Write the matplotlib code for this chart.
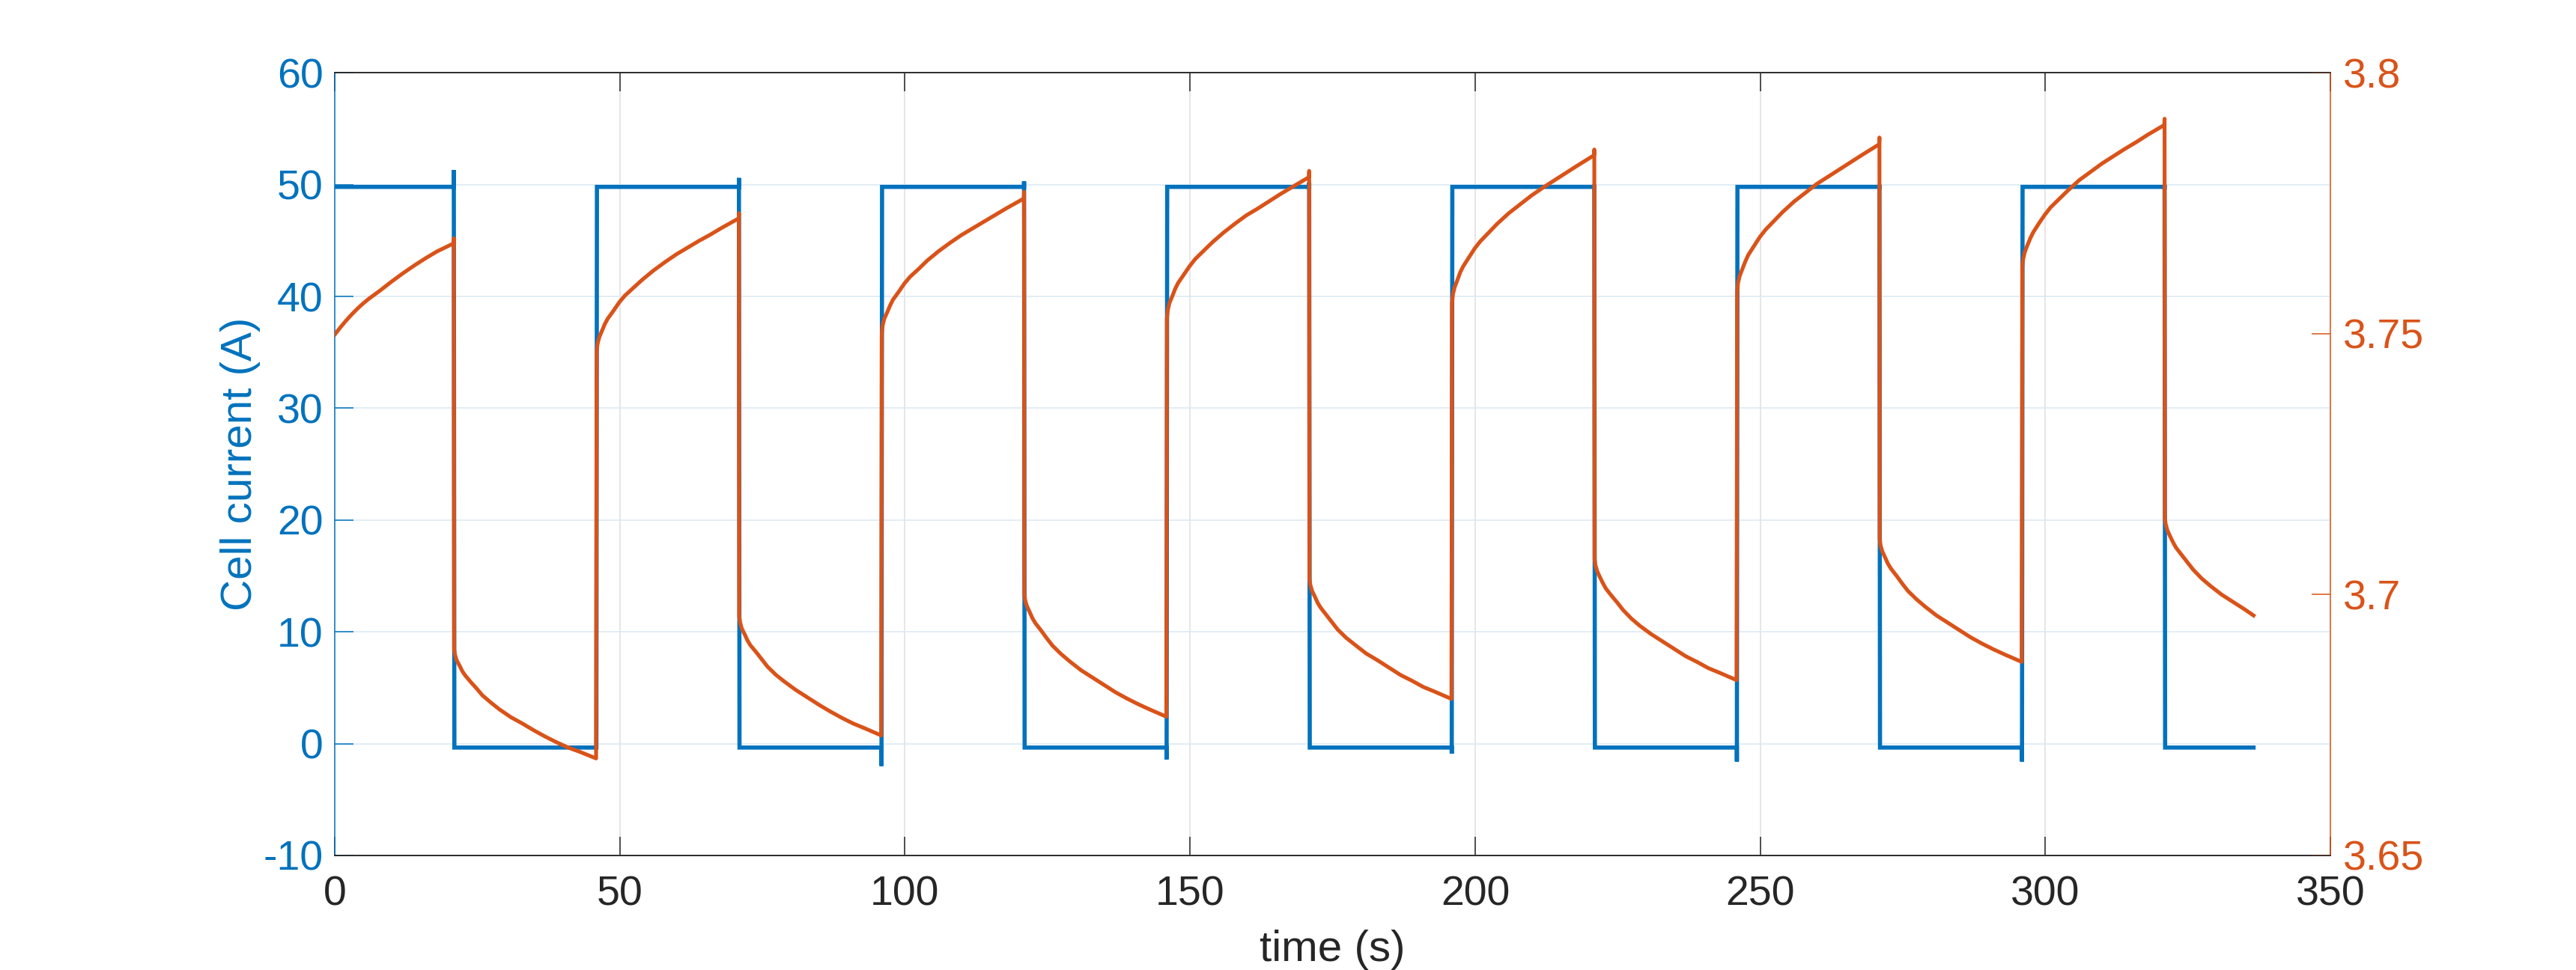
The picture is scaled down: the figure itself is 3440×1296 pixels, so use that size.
import matplotlib.pyplot as plt
import numpy as np

plt.rcParams['font.family'] = ['Liberation Sans', 'DejaVu Sans']
plt.rcParams['axes.unicode_minus'] = False

# switching times of the pulse test (s)
t_off = [20.9, 70.9, 120.9, 170.9, 220.9, 270.9, 320.9]   # current goes to zero
t_on = [45.9, 95.9, 145.9, 195.9, 245.9, 295.9]           # current back to 50 A
t_end = 336.5

# current levels (A)
i_high = 49.8
i_low = -0.35
i_spike_off = [51.3, 50.6, 50.3, 50.2, 50.0, 50.0, 50.0]
i_spike_on = [-0.35, -2.0, -1.4, -0.9, -1.6, -1.6]

# voltage (V), first charge piece from t=0
t_first = [0, 1, 2, 3, 4, 5, 6, 8, 10, 12, 14, 16, 18, 20.85]
v_first = [3.7498, 3.7512, 3.7525, 3.7537, 3.7548, 3.7558, 3.7567,
           3.7583, 3.7600, 3.7616, 3.7631, 3.7645, 3.7658, 3.7673]

# time offsets inside each 25 s piece
seg_dt = [0.05, 0.2, 0.5, 1, 1.5, 2, 3, 4, 5, 6.5, 8, 10, 12, 14, 16, 18, 20, 22, 24.95]

# rest pieces (after each switch-off)
v_rest = [
    [3.6895, 3.6885, 3.6874, 3.6864, 3.6853, 3.6845, 3.6832, 3.6820, 3.6807, 3.6793,
     3.6780, 3.6765, 3.6753, 3.6740, 3.6728, 3.6717, 3.6707, 3.6699, 3.6686],
    [3.6958, 3.6947, 3.6935, 3.6924, 3.6912, 3.6903, 3.6890, 3.6876, 3.6862, 3.6846,
     3.6833, 3.6817, 3.6803, 3.6789, 3.6776, 3.6764, 3.6753, 3.6744, 3.6730],
    [3.7001, 3.6989, 3.6978, 3.6966, 3.6954, 3.6945, 3.6931, 3.6916, 3.6902, 3.6886,
     3.6872, 3.6855, 3.6841, 3.6827, 3.6813, 3.6801, 3.6790, 3.6780, 3.6766],
    [3.7030, 3.7019, 3.7007, 3.6996, 3.6984, 3.6975, 3.6961, 3.6947, 3.6933, 3.6917,
     3.6904, 3.6887, 3.6874, 3.6860, 3.6846, 3.6835, 3.6823, 3.6814, 3.6800],
    [3.7068, 3.7056, 3.7045, 3.7033, 3.7022, 3.7012, 3.6998, 3.6985, 3.6971, 3.6954,
     3.6940, 3.6924, 3.6910, 3.6896, 3.6882, 3.6871, 3.6859, 3.6850, 3.6836],
    [3.7106, 3.7094, 3.7083, 3.7071, 3.7059, 3.7050, 3.7036, 3.7021, 3.7007, 3.6991,
     3.6977, 3.6960, 3.6946, 3.6932, 3.6918, 3.6906, 3.6895, 3.6885, 3.6871],
]

# charge pieces (after each switch-on)
v_charge = [
    [3.7465, 3.7480, 3.7493, 3.7506, 3.7519, 3.7529, 3.7544, 3.7560, 3.7573, 3.7588,
     3.7603, 3.7621, 3.7637, 3.7652, 3.7665, 3.7678, 3.7690, 3.7703, 3.7721],
    [3.7500, 3.7516, 3.7529, 3.7541, 3.7554, 3.7565, 3.7580, 3.7596, 3.7609, 3.7624,
     3.7640, 3.7658, 3.7674, 3.7689, 3.7702, 3.7715, 3.7728, 3.7741, 3.7759],
    [3.7529, 3.7545, 3.7559, 3.7572, 3.7586, 3.7597, 3.7613, 3.7629, 3.7643, 3.7659,
     3.7675, 3.7694, 3.7711, 3.7727, 3.7740, 3.7754, 3.7768, 3.7781, 3.7800],
    [3.7558, 3.7575, 3.7589, 3.7603, 3.7618, 3.7629, 3.7646, 3.7663, 3.7677, 3.7694,
     3.7711, 3.7731, 3.7748, 3.7765, 3.7780, 3.7794, 3.7808, 3.7822, 3.7842],
    [3.7580, 3.7597, 3.7611, 3.7625, 3.7639, 3.7651, 3.7668, 3.7685, 3.7699, 3.7716,
     3.7733, 3.7753, 3.7770, 3.7787, 3.7801, 3.7815, 3.7829, 3.7843, 3.7863],
    [3.7627, 3.7643, 3.7657, 3.7671, 3.7684, 3.7695, 3.7712, 3.7728, 3.7742, 3.7758,
     3.7774, 3.7794, 3.7810, 3.7826, 3.7840, 3.7854, 3.7867, 3.7881, 3.7900],
]

# small overshoot at each switch-off
v_spike = [3.7683, 3.7731, 3.7772, 3.7812, 3.7853, 3.7876, 3.7912]

# last rest piece
last_dt = [0.05, 0.2, 0.5, 1, 1.5, 2, 3, 4, 5, 6.5, 8, 10, 12, 14, 15.6]
v_last = [3.7147, 3.7135, 3.7123, 3.7111, 3.7100, 3.7090, 3.7076, 3.7062,
          3.7048, 3.7031, 3.7017, 3.7000, 3.6986, 3.6972, 3.6960]

# build current trace
t_i = [0]
cur = [i_high]
for k in range(len(t_off)):
    t_i += [t_off[k], t_off[k], t_off[k] + 0.1]
    cur += [i_high, i_spike_off[k], i_low]
    if k < len(t_on):
        t_i += [t_on[k], t_on[k], t_on[k] + 0.1]
        cur += [i_low, i_spike_on[k], i_high]
t_i.append(t_end)
cur.append(i_low)

# build voltage trace
t_v = list(t_first)
volt = list(v_first)
for k in range(len(t_on)):
    t_v.append(t_off[k])
    volt.append(v_spike[k])
    t_v += [t_off[k] + dt for dt in seg_dt]
    volt += v_rest[k]
    t_v += [t_on[k] + dt for dt in seg_dt]
    volt += v_charge[k]
t_v.append(t_off[-1])
volt.append(v_spike[-1])
t_v += [t_off[-1] + dt for dt in last_dt]
volt += v_last

blue = '#0072BD'
orange = '#D95319'
dark = '#262626'

fig = plt.figure(figsize=(34.4, 12.96), dpi=100)
ax1 = fig.add_axes([0.1299, 0.1181, 0.7748, 0.8068])
ax2 = ax1.twinx()

ax1.set_axisbelow(True)
ax1.plot(t_i, cur, color=blue, lw=4.0, solid_joinstyle='miter')
ax2.plot(t_v, volt, color=orange, lw=3.7)

ax1.set_xlim(0, 350)
ax1.set_ylim(-10, 60)
ax2.set_ylim(3.65, 3.8)
ax1.set_xticks(np.arange(0, 351, 50))
ax1.set_yticks(np.arange(-10, 61, 10))
ax2.set_yticks([3.65, 3.7, 3.75, 3.8])
ax2.set_yticklabels(['3.65', '3.7', '3.75', '3.8'])

ax1.xaxis.grid(True, color='#DFDFDF', lw=1.1)
ax1.yaxis.grid(True, color='#DAE8F4', lw=1.1)

# spines
for ax in (ax1, ax2):
    ax.spines['top'].set_color(dark)
    ax.spines['bottom'].set_color(dark)
    for s in ax.spines.values():
        s.set_linewidth(1.1)
ax1.spines['right'].set_visible(False)
ax2.spines['left'].set_visible(False)
ax1.spines['left'].set_color(blue)
ax2.spines['right'].set_color(orange)

ax1.tick_params(axis='x', direction='in', top=True, length=18, width=1.1,
                color=dark, labelcolor=dark, labelsize=40, pad=19)
ax1.tick_params(axis='y', direction='in', right=False, length=18, width=1.1,
                color=blue, labelcolor=blue, labelsize=40, pad=11)
ax2.tick_params(axis='y', direction='in', length=18, width=1.1,
                color=orange, labelcolor=orange, labelsize=40, pad=12)

ax1.set_xlabel('time (s)', fontsize=42, color=dark)
ax1.xaxis.set_label_coords(0.5, -0.095)
ax1.set_ylabel('Cell current (A)', fontsize=42, color=blue)
ax1.yaxis.set_label_coords(-0.037, 0.5)

fig.savefig('out.png', dpi=100)
